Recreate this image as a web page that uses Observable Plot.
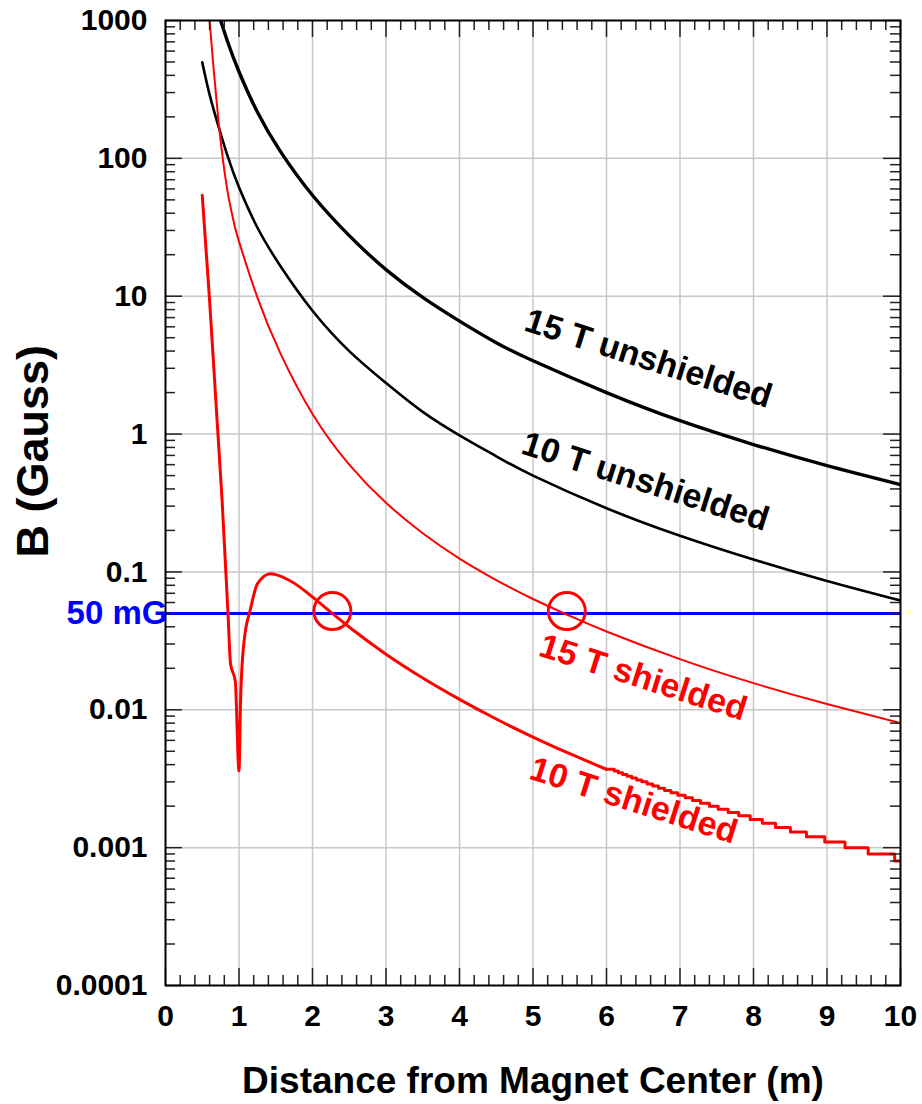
<!DOCTYPE html>
<html><head><meta charset="utf-8">
<script src="https://cdn.jsdelivr.net/npm/d3@7"></script>
<script src="https://cdn.jsdelivr.net/npm/@observablehq/plot@0.6"></script>
<style>html,body{margin:0;padding:0;background:#fff;} svg{display:block}</style>
</head><body><div id="chart"></div>
<script>
// ---- tick values / labels ----
const xTicks = [0,1,2,3,4,5,6,7,8,9,10];
const yTicks = [0.0001,0.001,0.01,0.1,1,10,100,1000];
const yTickLabels = ["0.0001","0.001","0.01","0.1","1","10","100","1000"];

// ---- series (distance m, field Gauss) ----
const x15U = [0.75,0.85,1.0,1.25,1.565,2.0,2.5,3.0,3.5,4.0,4.5,5.0,6.0,7.0,8.0,9.0,10.0];
const b15U = [1000,690,425,217,112,54,27.5,15.6,9.8,6.6,4.6,3.4,2.0,1.25,0.84,0.59,0.43];

const x10U = [0.5,0.6,0.725,0.85,1.0,1.25,1.565,2.0,2.5,3.0,3.5,4.0,4.5,5.0,6.0,7.0,8.0,9.0,10.0];
const b10U = [497,290,168,102,61.6,31.5,16.5,7.85,4.0,2.35,1.45,0.98,0.69,0.5,0.29,0.183,0.123,0.086,0.062];

const x15S = [0.6,0.65,0.725,0.79,0.86,0.93,1.0,1.25,1.565,2.0,2.5,3.0,3.5,4.0,4.5,5.0,5.5,6.0,7.0,8.0,9.0,10.0];
const b15S = [1000,477,178,90,51.7,34.4,25,9.8,3.83,1.40,0.60,0.317,0.191,0.125,0.0873,0.0636,0.048,0.037,0.0233,0.0156,0.011,0.0080];

const x10S = [0.5,0.6,0.7,0.77,0.85,0.885,0.95,1.0,1.02,1.065,1.16,1.25,1.43,1.7,2.06,2.27,2.52,3.0,3.5,4.0,4.5,5.0,5.5,6.0];
const b10S = [54,9.3,1.3,0.33,0.05,0.0216,0.016,0.0036,0.011,0.030,0.055,0.082,0.097,0.086,0.062,0.05,0.039,0.0253,0.017,0.0119,0.00857,0.00634,0.0048,0.0037];

// quantized tail of the 10 T shielded curve (level start, level value)
const x10Stail = [6.0,6.105,6.16,6.22,6.28,6.343,6.41,6.48,6.553,6.628,6.707,6.79,6.877,6.97,7.07,7.17,7.28,7.40,7.52,7.655,7.80,7.955,8.12,8.30,8.502,8.72,8.97,9.245,9.56,9.92,10.0];
const b10Stail = [0.0037,0.0036,0.0035,0.0034,0.0033,0.0032,0.0031,0.0030,0.0029,0.0028,0.0027,0.0026,0.0025,0.0024,0.0023,0.0022,0.0021,0.0020,0.0019,0.0018,0.0017,0.0016,0.0015,0.0014,0.0013,0.0012,0.0011,0.0010,0.0009,0.0008,0.0008];

const limit = [0.05];            // 50 mG line
const limitLabel = "50 mG";
const crossX = [2.27, 5.46];     // circled crossings
const crossB = [0.052, 0.052];

const toRows = (xs, bs) => xs.map((x, i) => ({x, b: bs[i]}));

const xMinor = d3.range(0, 10.001, 0.2).filter(v => Math.abs(v - Math.round(v)) > 1e-6);
const yMinor = [];
for (let e = -4; e < 3; e++) for (let k = 2; k <= 9; k++) yMinor.push(k * Math.pow(10, e));

const FONT = "Liberation Sans, Arial, Helvetica, sans-serif";
const txt = {fontFamily: FONT, fontWeight: "bold"};
const FH = 965, FW = 735;

const chart = Plot.plot({
  width: 922, height: 1104,
  marginLeft: 165, marginRight: 22, marginTop: 20, marginBottom: 119,
  style: {background: "white", fontFamily: FONT},
  x: {domain: [0, 10], axis: null},
  y: {type: "log", domain: [0.0001, 1000], axis: null},
  marks: [
    // grid
    Plot.ruleX(xTicks.slice(1, -1), {x: d => d, stroke: "#c8c8c8", strokeWidth: 1.5}),
    Plot.ruleY(yTicks.slice(1, -1), {y: d => d, stroke: "#c8c8c8", strokeWidth: 1.5}),
    // 50 mG line
    Plot.ruleY(limit, {y: d => d, stroke: "#0000ff", strokeWidth: 3}),
    // curves
    Plot.line(toRows(x10U, b10U), {x: "x", y: "b", stroke: "black", strokeWidth: 2.6, curve: "natural", clip: true}),
    Plot.line(toRows(x15U, b15U), {x: "x", y: "b", stroke: "black", strokeWidth: 3.4, curve: "natural", clip: true}),
    Plot.line(toRows(x15S, b15S), {x: "x", y: "b", stroke: "#ff0000", strokeWidth: 2, curve: "natural", clip: true}),
    Plot.line(toRows(x10S, b10S), {x: "x", y: "b", stroke: "#ff0000", strokeWidth: 3, curve: "monotone-x", clip: true}),
    Plot.line(toRows(x10Stail, b10Stail), {x: "x", y: "b", stroke: "#ff0000", strokeWidth: 3, curve: "step-after", clip: true}),
    // circles
    Plot.dot(crossX.map((x, i) => ({x, b: crossB[i]})), {x: "x", y: "b", r: 18.5, stroke: "#ff0000", strokeWidth: 3, fill: "none"}),
    // ticks
    Plot.tickX(xTicks, {x: d => d, insetTop: FH - 17, stroke: "#222", strokeWidth: 1.5}),
    Plot.tickX(xTicks, {x: d => d, insetBottom: FH - 17, stroke: "#222", strokeWidth: 1.5}),
    Plot.tickX(xMinor, {x: d => d, insetTop: FH - 10, stroke: "#222", strokeWidth: 1.5}),
    Plot.tickX(xMinor, {x: d => d, insetBottom: FH - 10, stroke: "#222", strokeWidth: 1.5}),
    Plot.tickY(yTicks, {y: d => d, insetRight: FW - 17, stroke: "#222", strokeWidth: 1.5}),
    Plot.tickY(yTicks, {y: d => d, insetLeft: FW - 17, stroke: "#222", strokeWidth: 1.5}),
    Plot.tickY(yMinor, {y: d => d, insetRight: FW - 10, stroke: "#222", strokeWidth: 1.5}),
    Plot.tickY(yMinor, {y: d => d, insetLeft: FW - 10, stroke: "#222", strokeWidth: 1.5}),
    Plot.frame({stroke: "black", strokeWidth: 2}),
    // tick labels
    Plot.text(yTicks, {x: 0, y: d => d, text: (d, i) => yTickLabels[i], textAnchor: "end", dx: -18, fontSize: 30, fill: "black", ...txt}),
    Plot.text(xTicks, {x: d => d, y: 0.0001, text: d => String(d), dy: 31, fontSize: 30, fill: "black", ...txt}),
    // axis titles
    Plot.text(["Distance from Magnet Center (m)"], {x: 5, y: 0.0001, text: d => d, dy: 96, fontSize: 37, fill: "black", ...txt}),
    Plot.text(["B (Gauss)"], {x: 0, y: 0.75, text: d => d, dx: -132, rotate: -90, fontSize: 45, fill: "black", ...txt}),
    // limit label
    Plot.text([limitLabel], {x: 0, y: limit[0], text: d => d, textAnchor: "end", dx: 2, fontSize: 33, fill: "#0000ff", ...txt}),
    // curve labels
    Plot.text(["15 T unshielded"], {x: 6.57, y: 3.52, text: d => d, rotate: 17.7, fontSize: 34, fill: "black", ...txt}),
    Plot.text(["10 T unshielded"], {x: 6.53, y: 0.452, text: d => d, rotate: 17.7, fontSize: 34, fill: "black", ...txt}),
    Plot.text(["15 T shielded"], {x: 6.50, y: 0.0171, text: d => d, rotate: 17.7, fontSize: 34, fill: "#ff0000", ...txt}),
    Plot.text(["10 T shielded"], {x: 6.37, y: 0.00219, text: d => d, rotate: 17.7, fontSize: 34, fill: "#ff0000", ...txt})
  ]
});
document.getElementById("chart").appendChild(chart);
</script>
</body></html>
